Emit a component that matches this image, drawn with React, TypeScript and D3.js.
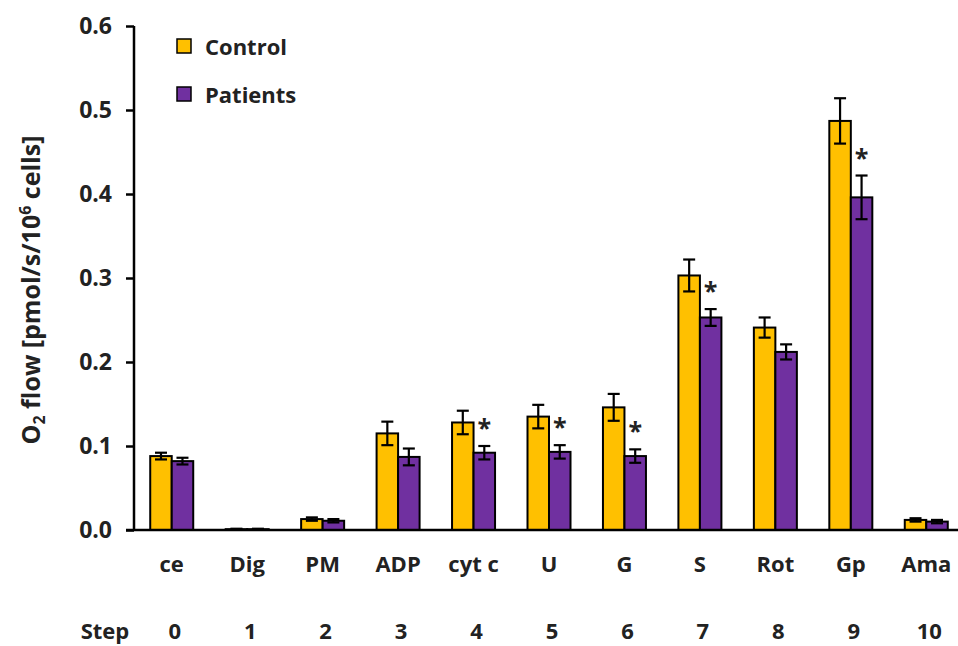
import React, { useEffect, useRef } from 'react';
import * as d3 from 'd3';

const STEPS = ['0', '1', '2', '3', '4', '5', '6', '7', '8', '9', '10'];
const LABELS = ['ce', 'Dig', 'PM', 'ADP', 'cyt c', 'U', 'G', 'S', 'Rot', 'Gp', 'Ama'];
const CONTROL = [0.088, 0.001, 0.013, 0.115, 0.128, 0.135, 0.146, 0.303, 0.241, 0.487, 0.012];
const CONTROL_ERR = [0.004, 0.0005, 0.002, 0.014, 0.014, 0.014, 0.016, 0.019, 0.012, 0.027, 0.002];
const PATIENTS = [0.082, 0.001, 0.011, 0.087, 0.092, 0.093, 0.088, 0.253, 0.212, 0.396, 0.010];
const PATIENTS_ERR = [0.004, 0.0005, 0.002, 0.010, 0.008, 0.008, 0.008, 0.010, 0.009, 0.026, 0.002];
const SIGNIFICANT = [false, false, false, false, true, true, true, true, false, true, false];
const Y_TICKS = [0, 0.1, 0.2, 0.3, 0.4, 0.5, 0.6];

const COLORS = { control: '#FFC000', patients: '#7030A0' };
const FONT = '"Open Sans", Lato, sans-serif';
const FS = 22;

export default function App() {
    const svgRef = useRef<SVGSVGElement | null>(null);
    const width = 958;
    const height = 646;

    useEffect(() => {
        document.body.style.margin = '0';
        const svg = d3.select(svgRef.current);
        svg.selectAll('*').remove();

        const x0 = 134;
        const x1 = 964;
        const yTop = 26;
        const yBottom = 530;

        const x = d3.scaleBand<string>().domain(LABELS).range([x0, x1]).padding(0);
        const y = d3.scaleLinear().domain([0, 0.6]).range([yBottom, yTop]);
        const barW = 21.5;

        const g = svg.append('g').attr('font-family', FONT).attr('font-weight', 700);

        // Bars
        const series = [
            { key: 'control', values: CONTROL, errs: CONTROL_ERR, offset: -barW },
            { key: 'patients', values: PATIENTS, errs: PATIENTS_ERR, offset: 0 },
        ];

        series.forEach(s => {
            const grp = g.append('g');
            grp.selectAll('rect')
                .data(s.values)
                .join('rect')
                .attr('x', (d, i) => x(LABELS[i])! + x.bandwidth() / 2 + s.offset)
                .attr('y', d => y(d))
                .attr('width', barW)
                .attr('height', d => yBottom - y(d))
                .attr('fill', COLORS[s.key as 'control' | 'patients'])
                .attr('stroke', '#000')
                .attr('stroke-width', 2);

            // Error bars
            s.values.forEach((v, i) => {
                const cx = x(LABELS[i])! + x.bandwidth() / 2 + s.offset + barW / 2;
                const e = s.errs[i];
                const hi = y(v + e);
                const lo = y(Math.max(0, v - e));
                const eb = grp.append('g').attr('stroke', '#000').attr('stroke-width', 2.2);
                eb.append('line').attr('x1', cx).attr('x2', cx).attr('y1', hi).attr('y2', lo);
                eb.append('line').attr('x1', cx - 6).attr('x2', cx + 6).attr('y1', hi).attr('y2', hi);
                eb.append('line').attr('x1', cx - 6).attr('x2', cx + 6).attr('y1', lo).attr('y2', lo);
            });
        });

        // Significance asterisks
        SIGNIFICANT.forEach((sig, i) => {
            if (!sig) return;
            const cx = x(LABELS[i])! + x.bandwidth() / 2 + barW / 2;
            g.append('text')
                .attr('x', cx)
                .attr('y', y(PATIENTS[i] + PATIENTS_ERR[i]) - 9)
                .attr('text-anchor', 'middle')
                .attr('font-size', 25)
                .attr('fill', '#222')
                .text('*');
        });

        // Y axis
        const yAxis = g.append('g').attr('transform', `translate(${x0},0)`)
            .call(d3.axisLeft(y).tickValues(Y_TICKS).tickFormat(d3.format('.1f')).tickSizeOuter(0).tickSize(8).tickPadding(14));
        yAxis.select('.domain').attr('stroke', '#000').attr('stroke-width', 2.5);
        yAxis.selectAll('.tick line').attr('stroke', '#000').attr('stroke-width', 2.5);
        yAxis.selectAll('.tick text')
            .attr('font-family', FONT)
            .attr('font-weight', 700)
            .attr('font-size', 23)
            .attr('fill', '#222');
        yAxis.select('.domain').attr('d', `M0,${yTop}V${yBottom}`);

        // X axis line
        g.append('line')
            .attr('x1', x0 - 8).attr('x2', width)
            .attr('y1', yBottom).attr('y2', yBottom)
            .attr('stroke', '#000').attr('stroke-width', 2.5);

        // Category labels
        g.selectAll('text.cat')
            .data(LABELS)
            .join('text')
            .attr('class', 'cat')
            .attr('x', d => x(d)! + x.bandwidth() / 2)
            .attr('y', 572)
            .attr('text-anchor', 'middle')
            .attr('font-size', FS)
            .attr('fill', '#222')
            .text(d => d);

        // Step labels
        g.selectAll('text.step')
            .data(STEPS)
            .join('text')
            .attr('class', 'step')
            .attr('x', (d, i) => x(LABELS[i])! + x.bandwidth() / 2 + 3)
            .attr('y', 639)
            .attr('text-anchor', 'middle')
            .attr('font-size', FS)
            .attr('fill', '#222')
            .text(d => d);

        g.append('text')
            .attr('x', 105)
            .attr('y', 639)
            .attr('text-anchor', 'middle')
            .attr('font-size', FS)
            .attr('fill', '#222')
            .text('Step');

        // Y axis title
        const title = g.append('text')
            .attr('transform', `translate(40,290) rotate(-90)`)
            .attr('text-anchor', 'middle')
            .attr('font-size', 25)
            .attr('fill', '#222');
        title.append('tspan').text('O');
        title.append('tspan').attr('font-size', 16).attr('dy', 5).text('2');
        title.append('tspan').attr('dy', -5).text(' flow [pmol/s/10');
        title.append('tspan').attr('font-size', 16).attr('dy', -9).text('6');
        title.append('tspan').attr('dy', 9).text(' cells]');

        // Legend
        const legend = g.append('g');
        [{ label: 'Control', color: COLORS.control }, { label: 'Patients', color: COLORS.patients }].forEach((item, i) => {
            const ly = 39 + i * 48;
            legend.append('rect')
                .attr('x', 177).attr('y', ly)
                .attr('width', 14).attr('height', 14)
                .attr('fill', item.color)
                .attr('stroke', '#000').attr('stroke-width', 1.5);
            legend.append('text')
                .attr('x', 205).attr('y', ly + 16)
                .attr('font-size', FS)
                .attr('fill', '#222')
                .text(item.label);
        });
    }, []);

    return <svg ref={svgRef} width={width} height={height} style={{ display: 'block', background: '#fff' }} />;
}
